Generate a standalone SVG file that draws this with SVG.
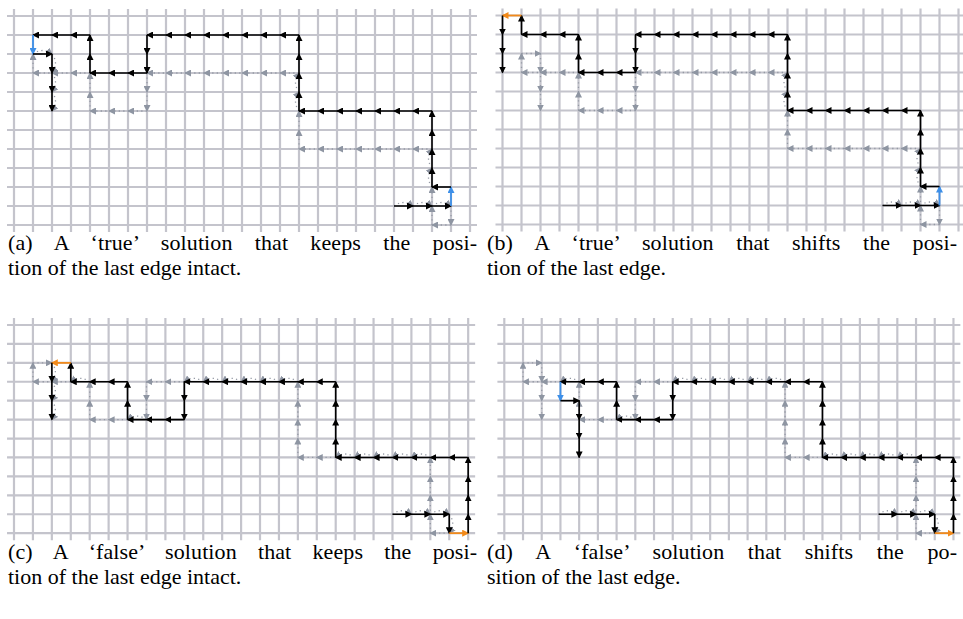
<svg xmlns="http://www.w3.org/2000/svg" xmlns:xlink="http://www.w3.org/1999/xlink" width="963" height="619" viewBox="0 0 963 619">
<style>
.grid{fill:none;stroke:#c4c4cc;stroke-width:2.2}
.k{fill:none;stroke:#000;stroke-width:1.6;marker-mid:url(#ab);marker-end:url(#ab)}
.g{fill:none;stroke:#959aa5;stroke-width:1.3;stroke-dasharray:1.3 3.2;marker-mid:url(#ag);marker-end:url(#ag)}
.bl{fill:none;stroke:#3d8fe8;stroke-width:1.8;marker-end:url(#abl)}
.or{fill:none;stroke:#f28a1a;stroke-width:1.8;marker-end:url(#ao)}
.cap{font-family:"Liberation Serif","DejaVu Serif",serif;font-size:20px;fill:#000}
</style>
<defs>
<marker id="ab" viewBox="0 0 7 7" refX="6" refY="3.5" markerWidth="7" markerHeight="7" markerUnits="userSpaceOnUse" orient="auto"><path d="M0,0 L7,3.5 L0,7 z" fill="#000"/></marker>
<marker id="ag" viewBox="0 0 7 7" refX="6" refY="3.5" markerWidth="7" markerHeight="7" markerUnits="userSpaceOnUse" orient="auto"><path d="M0,0 L7,3.5 L0,7 z" fill="#8e95a2"/></marker>
<marker id="abl" viewBox="0 0 7 7" refX="6" refY="3.5" markerWidth="7" markerHeight="7" markerUnits="userSpaceOnUse" orient="auto"><path d="M0,0 L7,3.5 L0,7 z" fill="#3d8fe8"/></marker>
<marker id="ao" viewBox="0 0 7 7" refX="6" refY="3.5" markerWidth="7" markerHeight="7" markerUnits="userSpaceOnUse" orient="auto"><path d="M0,0 L7,3.5 L0,7 z" fill="#f28a1a"/></marker>
<path id="grid" class="grid" d="M-7,0H463M-7,19H463M-7,38H463M-7,57H463M-7,76H463M-7,95H463M-7,114H463M-7,133H463M-7,152H463M-7,171H463M-7,190H463M-7,209H463M0,-7V216M19,-7V216M38,-7V216M57,-7V216M76,-7V216M95,-7V216M114,-7V216M133,-7V216M152,-7V216M171,-7V216M190,-7V216M209,-7V216M228,-7V216M247,-7V216M266,-7V216M285,-7V216M304,-7V216M323,-7V216M342,-7V216M361,-7V216M380,-7V216M399,-7V216M418,-7V216M437,-7V216M456,-7V216"/>
</defs>
<rect width="963" height="619" fill="#fff"/>

<g id="panel-a" transform="translate(14,16)">
<use xlink:href="#grid" href="#grid"/>
<g id="a-old-path">
<path class="g" d="M380,190Q389.5,183 399,190"/>
<path class="g" d="M399,190Q408.5,183 418,190"/>
<path class="g" d="M418,190Q427.5,183 437,190"/>
<polyline class="g" points="437,190 437,209"/>
<polyline class="g" points="437,209 418,209"/>
<polyline class="g" points="418,209 418,190 418,171"/>
<path class="g" d="M418,171Q411,161.5 418,152"/>
<path class="g" d="M418,152Q411,142.5 418,133"/>
<polyline class="g" points="418,133 399,133 380,133 361,133 342,133 323,133 304,133 285,133"/>
<polyline class="g" points="285,133 285,114 285,95"/>
<path class="g" d="M285,95Q278,85.5 285,76"/>
<path class="g" d="M285,76Q278,66.5 285,57"/>
<polyline class="g" points="285,57 266,57 247,57 228,57 209,57 190,57 171,57 152,57 133,57"/>
<polyline class="g" points="133,57 133,76 133,95"/>
<polyline class="g" points="133,95 114,95 95,95 76,95"/>
<polyline class="g" points="76,95 76,76 76,57"/>
<polyline class="g" points="76,57 57,57 38,57 19,57"/>
<polyline class="g" points="19,57 19,38"/>
<path class="g" d="M19,38Q28.5,31 38,38"/>
<path class="g" d="M38,38Q45,47.5 38,57"/>
<path class="g" d="M38,57Q45,66.5 38,76"/>
<path class="g" d="M38,76Q45,85.5 38,95"/>
</g>
<g id="a-solution">
<polyline class="k" points="380,190 399,190 418,190 437,190"/>
<polyline class="bl" points="437,190 437,171"/>
<polyline class="k" points="437,171 418,171"/>
<polyline class="k" points="418,171 418,152 418,133 418,114 418,95"/>
<polyline class="k" points="418,95 399,95 380,95 361,95 342,95 323,95 304,95 285,95"/>
<polyline class="k" points="285,95 285,76 285,57 285,38 285,19"/>
<polyline class="k" points="285,19 266,19 247,19 228,19 209,19 190,19 171,19 152,19 133,19"/>
<polyline class="k" points="133,19 133,38 133,57"/>
<polyline class="k" points="133,57 114,57 95,57 76,57"/>
<polyline class="k" points="76,57 76,38 76,19"/>
<polyline class="k" points="76,19 57,19 38,19 19,19"/>
<polyline class="bl" points="19,19 19,38"/>
<polyline class="k" points="19,38 38,38"/>
<polyline class="k" points="38,38 38,57 38,76 38,95"/>
</g>
</g>

<g id="panel-b" transform="translate(502.5,15.5)">
<use xlink:href="#grid" href="#grid"/>
<g id="b-old-path">
<path class="g" d="M380,190Q389.5,183 399,190"/>
<path class="g" d="M399,190Q408.5,183 418,190"/>
<path class="g" d="M418,190Q427.5,183 437,190"/>
<polyline class="g" points="437,190 437,209"/>
<polyline class="g" points="437,209 418,209"/>
<polyline class="g" points="418,209 418,190 418,171"/>
<path class="g" d="M418,171Q411,161.5 418,152"/>
<path class="g" d="M418,152Q411,142.5 418,133"/>
<polyline class="g" points="418,133 399,133 380,133 361,133 342,133 323,133 304,133 285,133"/>
<polyline class="g" points="285,133 285,114 285,95"/>
<path class="g" d="M285,95Q278,85.5 285,76"/>
<path class="g" d="M285,76Q278,66.5 285,57"/>
<polyline class="g" points="285,57 266,57 247,57 228,57 209,57 190,57 171,57 152,57 133,57"/>
<polyline class="g" points="133,57 133,76 133,95"/>
<polyline class="g" points="133,95 114,95 95,95 76,95"/>
<polyline class="g" points="76,95 76,76 76,57"/>
<polyline class="g" points="76,57 57,57 38,57 19,57"/>
<polyline class="g" points="19,57 19,38"/>
<polyline class="g" points="19,38 38,38"/>
<polyline class="g" points="38,38 38,57 38,76 38,95"/>
</g>
<g id="b-solution">
<polyline class="k" points="380,190 399,190 418,190 437,190"/>
<polyline class="bl" points="437,190 437,171"/>
<polyline class="k" points="437,171 418,171"/>
<polyline class="k" points="418,171 418,152 418,133 418,114 418,95"/>
<polyline class="k" points="418,95 399,95 380,95 361,95 342,95 323,95 304,95 285,95"/>
<polyline class="k" points="285,95 285,76 285,57 285,38 285,19"/>
<polyline class="k" points="285,19 266,19 247,19 228,19 209,19 190,19 171,19 152,19 133,19"/>
<polyline class="k" points="133,19 133,38 133,57"/>
<polyline class="k" points="133,57 114,57 95,57 76,57"/>
<polyline class="k" points="76,57 76,38 76,19"/>
<polyline class="k" points="76,19 57,19 38,19 19,19"/>
<polyline class="k" points="19,19 19,0"/>
<polyline class="or" points="19,0 0,0"/>
<polyline class="k" points="0,0 0,19 0,38 0,57"/>
</g>
</g>

<g id="panel-c" transform="translate(14,325) scale(0.996)">
<use xlink:href="#grid" href="#grid"/>
<g id="c-old-path">
<path class="g" d="M380,190Q389.5,183 399,190"/>
<path class="g" d="M399,190Q408.5,183 418,190"/>
<path class="g" d="M418,190Q427.5,183 437,190"/>
<path class="g" d="M437,190Q444,199.5 437,209"/>
<polyline class="g" points="437,209 418,209"/>
<polyline class="g" points="418,209 418,190 418,171 418,152 418,133"/>
<path class="g" d="M418,133Q408.5,126 399,133"/>
<path class="g" d="M399,133Q389.5,126 380,133"/>
<path class="g" d="M380,133Q370.5,126 361,133"/>
<path class="g" d="M361,133Q351.5,126 342,133"/>
<path class="g" d="M342,133Q332.5,126 323,133"/>
<polyline class="g" points="323,133 304,133 285,133"/>
<polyline class="g" points="285,133 285,114 285,95 285,76 285,57"/>
<path class="g" d="M285,57Q275.5,50 266,57"/>
<path class="g" d="M266,57Q256.5,50 247,57"/>
<path class="g" d="M247,57Q237.5,50 228,57"/>
<path class="g" d="M228,57Q218.5,50 209,57"/>
<path class="g" d="M209,57Q199.5,50 190,57"/>
<path class="g" d="M190,57Q180.5,50 171,57"/>
<polyline class="g" points="171,57 152,57 133,57"/>
<polyline class="g" points="133,57 133,76 133,95"/>
<path class="g" d="M133,95Q123.5,88 114,95"/>
<polyline class="g" points="114,95 95,95 76,95"/>
<polyline class="g" points="76,95 76,76 76,57"/>
<path class="g" d="M76,57Q66.5,50 57,57"/>
<polyline class="g" points="57,57 38,57 19,57"/>
<polyline class="g" points="19,57 19,38"/>
<polyline class="g" points="19,38 38,38"/>
<path class="g" d="M38,38Q45,47.5 38,57"/>
<path class="g" d="M38,57Q45,66.5 38,76"/>
<path class="g" d="M38,76Q45,85.5 38,95"/>
</g>
<g id="c-solution">
<polyline class="k" points="380,190 399,190 418,190 437,190"/>
<polyline class="k" points="437,190 437,209"/>
<polyline class="or" points="437,209 456,209"/>
<polyline class="k" points="456,209 456,190 456,171 456,152 456,133"/>
<polyline class="k" points="456,133 437,133 418,133 399,133 380,133 361,133 342,133 323,133"/>
<polyline class="k" points="323,133 323,114 323,95 323,76 323,57"/>
<polyline class="k" points="323,57 304,57 285,57 266,57 247,57 228,57 209,57 190,57 171,57"/>
<polyline class="k" points="171,57 171,76 171,95"/>
<polyline class="k" points="171,95 152,95 133,95 114,95"/>
<polyline class="k" points="114,95 114,76 114,57"/>
<polyline class="k" points="114,57 95,57 76,57 57,57"/>
<polyline class="k" points="57,57 57,38"/>
<polyline class="or" points="57,38 38,38"/>
<polyline class="k" points="38,38 38,57 38,76 38,95"/>
</g>
</g>

<g id="panel-d" transform="translate(504.3,325) scale(0.985,0.996)">
<use xlink:href="#grid" href="#grid"/>
<g id="d-old-path">
<path class="g" d="M380,190Q389.5,183 399,190"/>
<path class="g" d="M399,190Q408.5,183 418,190"/>
<path class="g" d="M418,190Q427.5,183 437,190"/>
<path class="g" d="M437,190Q444,199.5 437,209"/>
<polyline class="g" points="437,209 418,209"/>
<polyline class="g" points="418,209 418,190 418,171 418,152 418,133"/>
<path class="g" d="M418,133Q408.5,126 399,133"/>
<path class="g" d="M399,133Q389.5,126 380,133"/>
<path class="g" d="M380,133Q370.5,126 361,133"/>
<path class="g" d="M361,133Q351.5,126 342,133"/>
<path class="g" d="M342,133Q332.5,126 323,133"/>
<polyline class="g" points="323,133 304,133 285,133"/>
<polyline class="g" points="285,133 285,114 285,95 285,76 285,57"/>
<path class="g" d="M285,57Q275.5,50 266,57"/>
<path class="g" d="M266,57Q256.5,50 247,57"/>
<path class="g" d="M247,57Q237.5,50 228,57"/>
<path class="g" d="M228,57Q218.5,50 209,57"/>
<path class="g" d="M209,57Q199.5,50 190,57"/>
<path class="g" d="M190,57Q180.5,50 171,57"/>
<polyline class="g" points="171,57 152,57 133,57"/>
<polyline class="g" points="133,57 133,76 133,95"/>
<path class="g" d="M133,95Q123.5,88 114,95"/>
<polyline class="g" points="114,95 95,95 76,95"/>
<polyline class="g" points="76,95 76,76 76,57"/>
<path class="g" d="M76,57Q66.5,50 57,57"/>
<polyline class="g" points="57,57 38,57 19,57"/>
<polyline class="g" points="19,57 19,38"/>
<polyline class="g" points="19,38 38,38"/>
<polyline class="g" points="38,38 38,57 38,76 38,95"/>
</g>
<g id="d-solution">
<polyline class="k" points="380,190 399,190 418,190 437,190"/>
<polyline class="k" points="437,190 437,209"/>
<polyline class="or" points="437,209 456,209"/>
<polyline class="k" points="456,209 456,190 456,171 456,152 456,133"/>
<polyline class="k" points="456,133 437,133 418,133 399,133 380,133 361,133 342,133 323,133"/>
<polyline class="k" points="323,133 323,114 323,95 323,76 323,57"/>
<polyline class="k" points="323,57 304,57 285,57 266,57 247,57 228,57 209,57 190,57 171,57"/>
<polyline class="k" points="171,57 171,76 171,95"/>
<polyline class="k" points="171,95 152,95 133,95 114,95"/>
<polyline class="k" points="114,95 114,76 114,57"/>
<polyline class="k" points="114,57 95,57 76,57 57,57"/>
<polyline class="bl" points="57,57 57,76"/>
<polyline class="k" points="57,76 76,76"/>
<polyline class="k" points="76,76 76,95 76,114 76,133"/>
</g>
</g>

<g id="captions">
<text class="cap" transform="translate(8,250) scale(1.1,1)" style="word-spacing:15px" textLength="426.4">(a) A ‘true’ solution that keeps the posi-</text>
<text class="cap" transform="translate(8,275) scale(1.1,1)">tion of the last edge intact.</text>
<text class="cap" transform="translate(487,250) scale(1.1,1)" style="word-spacing:15.4px" textLength="427.3">(b) A ‘true’ solution that shifts the posi-</text>
<text class="cap" transform="translate(487,275) scale(1.1,1)">tion of the last edge.</text>
<text class="cap" transform="translate(8,559) scale(1.1,1)" style="word-spacing:14.2px" textLength="426.4">(c) A ‘false’ solution that keeps the posi-</text>
<text class="cap" transform="translate(8,584) scale(1.1,1)">tion of the last edge intact.</text>
<text class="cap" transform="translate(487,559) scale(1.1,1)" style="word-spacing:16.4px" textLength="427.3">(d) A ‘false’ solution that shifts the po-</text>
<text class="cap" transform="translate(487,584) scale(1.1,1)">sition of the last edge.</text>
</g>
</svg>
